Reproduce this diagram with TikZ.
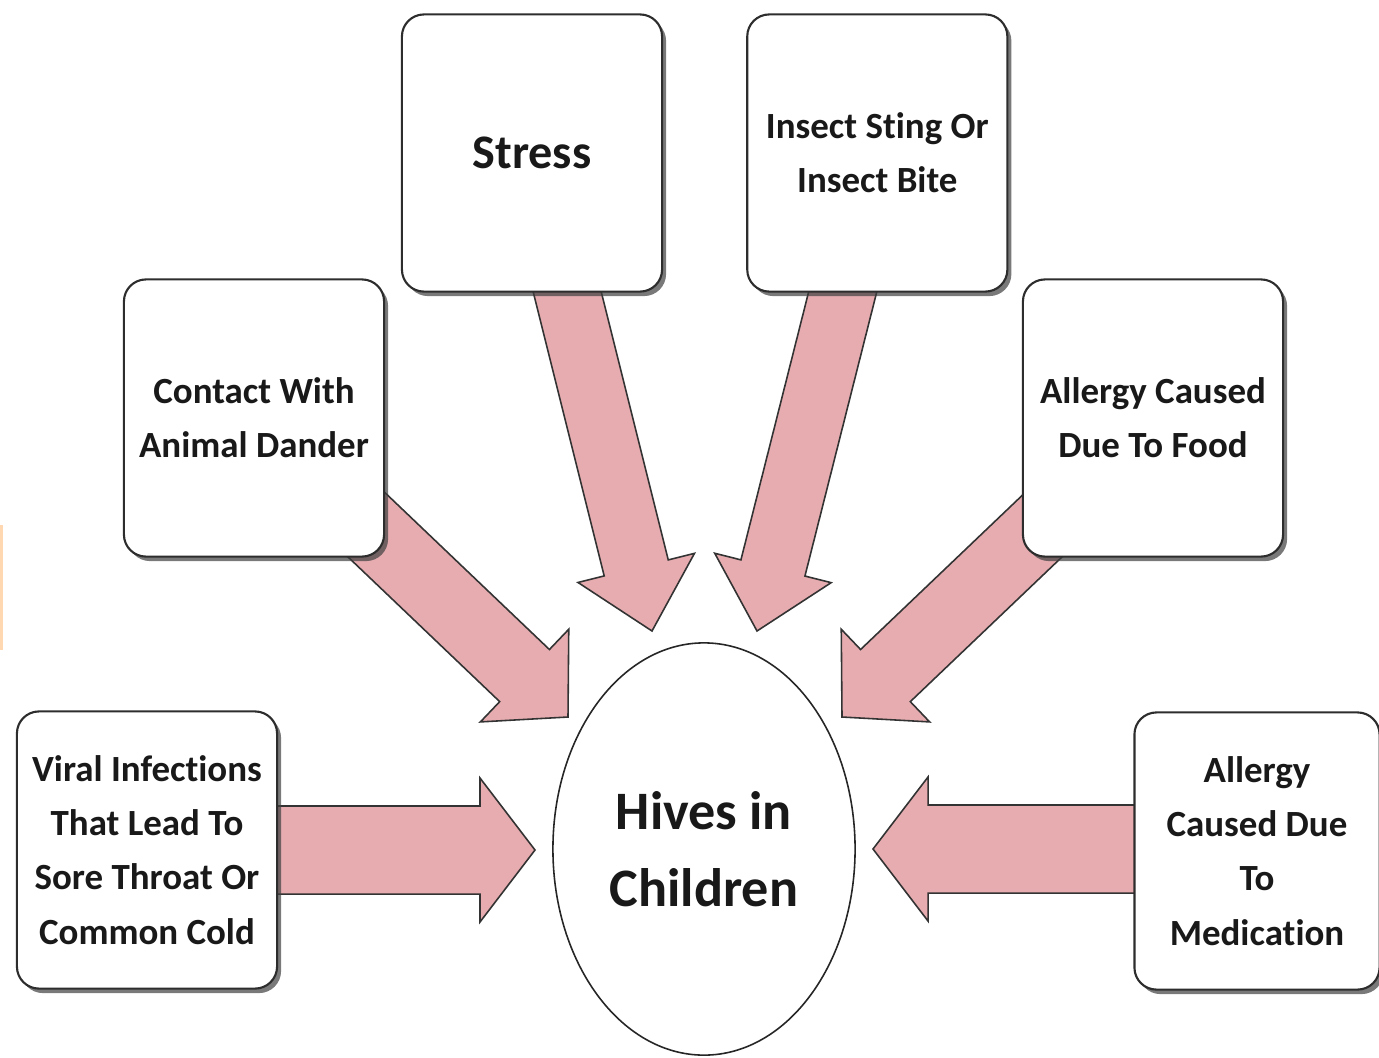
\documentclass[tikz,border=0pt]{standalone}
\usepackage{fontspec}
\setmainfont{Carlito}[Ligatures=NoCommon]
\usetikzlibrary{shapes,arrows,positioning,calc,shadows,backgrounds}
\definecolor{arrowpink}{RGB}{230,172,176}
\definecolor{boxline}{RGB}{45,45,45}
\tikzset{
  causebox/.style = {draw=boxline, line width=0.6pt, fill=white, rounded corners=0.22cm,
    minimum width=2.6cm, minimum height=2.77cm, inner sep=0pt, align=center,
    font=\bfseries\fontsize{10.5}{15.4}\selectfont, text=black!90,
    drop shadow={shadow xshift=0.04cm, shadow yshift=-0.045cm, fill=black!75, opacity=0.7}},
  hivenode/.style = {ellipse, draw=black!85, line width=0.45pt, fill=white,
    minimum width=3.02cm, minimum height=4.12cm, inner sep=0pt, align=center,
    font=\bfseries\fontsize{15.4}{21.9}\selectfont, text=black!90},
  blockarrow/.style = {draw=black!80, line width=0.45pt, fill=arrowpink, line join=miter},
}
% block arrow: tail, tip, half shaft, half head, head length
\newcommand{\causearrow}[5]{%
  \coordinate (ab) at ($(#2)!#5!(#1)$);
  \draw[blockarrow] ($(#1)!#3!90:(#2)$) -- ($(ab)!#3!-90:(#1)$) -- ($(ab)!#4!-90:(#1)$) -- (#2)
    -- ($(ab)!#4!90:(#1)$) -- ($(ab)!#3!90:(#1)$) -- ($(#1)!#3!-90:(#2)$) -- cycle;}

\begin{document}
\begin{tikzpicture}[x=0.01cm, y=-0.01cm]
  \useasboundingbox (0,0) rectangle (1379,1057);
  \fill[orange!60, opacity=0.5] (0,525) rectangle (3,650);

  \node[hivenode] (hive) at (704,849) {Hives in\\Children};

  \node[causebox, font=\bfseries\fontsize{13.7}{18}\selectfont] (stress) at (532,153) {Stress};
  \node[causebox, right=0.83cm of stress] (insect) {Insect Sting Or\\Insect Bite};
  \node[causebox] (dander) at (254,418) {Contact With\\Animal Dander};
  \node[causebox] (food) at (1153,418) {Allergy Caused\\Due To Food};
  \node[causebox] (viral) at (147,850) {Viral Infections\\That Lead To\\Sore Throat Or\\Common Cold};
  \node[causebox, minimum width=2.45cm] (medication) at (1257,851) {Allergy\\Caused Due\\To\\Medication};

  % arrow ends
  \coordinate (stress-t) at (560,263);  \coordinate (stress-h) at (652,631);
  \coordinate (insect-t) at (850,263);  \coordinate (insect-h) at (757,631);
  \coordinate (dander-t) at (330,490);  \coordinate (dander-h) at (568,717);
  \coordinate (food-t) at (1080,490);   \coordinate (food-h) at (842,717);
  \coordinate (viral-t) at (260,850);   \coordinate (viral-h) at (535,850);
  \coordinate (med-t) at (1150,849);    \coordinate (med-h) at (873,849);

  \begin{pgfonlayer}{background}
    \causearrow{stress-t}{stress-h}{0.33cm}{0.6cm}{0.65cm}
    \causearrow{insect-t}{insect-h}{0.33cm}{0.6cm}{0.65cm}
    \causearrow{dander-t}{dander-h}{0.36cm}{0.64cm}{0.6cm}
    \causearrow{food-t}{food-h}{0.36cm}{0.64cm}{0.6cm}
    \causearrow{viral-t}{viral-h}{0.44cm}{0.72cm}{0.55cm}
    \causearrow{med-t}{med-h}{0.44cm}{0.72cm}{0.55cm}
  \end{pgfonlayer}
\end{tikzpicture}
\end{document}
